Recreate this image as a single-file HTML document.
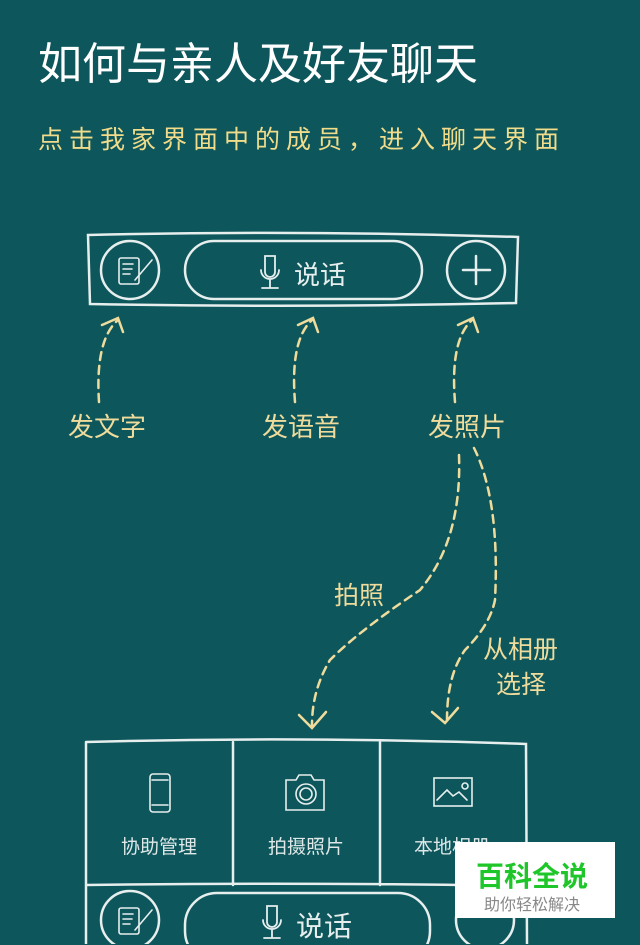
<!DOCTYPE html>
<html><head><meta charset="utf-8"><style>
html,body{margin:0;padding:0;}
body{width:640px;height:944px;background:#0d565b;position:relative;overflow:hidden;font-family:"Liberation Sans","Noto Sans CJK SC",sans-serif;}
.t{position:absolute;white-space:nowrap;}
</style></head><body>
<div class="t" style="left:38px;top:28px;font-size:44px;color:#fff;">如何与亲人及好友聊天</div>
<div class="t" style="left:38px;top:120px;font-size:25px;color:#f0dc8a;letter-spacing:6px;">点击我家界面中的成员，进入聊天界面</div>
<svg width="640" height="944" style="position:absolute;left:0;top:0" fill="none" stroke-linecap="round">
<g stroke="#e6eeee" stroke-width="2.5">
<path d="M88 235 Q300 230 518 237 L516 303 Q300 308 90 304 Z"/>
<circle cx="130" cy="270" r="29"/>
<rect x="185" y="241" width="237" height="58" rx="29"/>
<circle cx="476" cy="270" r="29"/>
<path d="M463 270 H490 M476 256 V284"/>
<rect x="119" y="258" width="20" height="26" rx="2" stroke-width="1.6"/>
<path d="M123 264h10M123 269h9M123 274h7M135 280 L152 260" stroke-width="1.6"/>
<path d="M265 256 h10 v16 a5 5 0 0 1-10 0z M261 270 a9 9 0 0 0 18 0 M270 280 v7 M262 288 h16" stroke-width="1.8"/>
<path d="M86 742 Q300 736 526 744 L527 944 M86 742 L86 944 M233 742 V885 M380 742 V885 M86 885 Q300 882 527 886" />
<circle cx="130" cy="920" r="29"/>
<rect x="185" y="893" width="245" height="70" rx="32"/>
<circle cx="485" cy="920" r="29"/>
<rect x="119" y="908" width="20" height="26" rx="2" stroke-width="1.6"/>
<path d="M123 914h10M123 919h9M123 924h7M135 930 L152 910" stroke-width="1.6"/>
<path d="M267 906 h10 v16 a5 5 0 0 1-10 0z M263 920 a9 9 0 0 0 18 0 M272 930 v7 M264 938 h16" stroke-width="1.8"/>
<g stroke-width="1.6">
<rect x="150" y="774" width="20" height="38" rx="3"/><path d="M152 780h16M152 805h16"/>
<path d="M286 780 h10 l3-5 h12 l3 5 h10 v30 h-38z"/><circle cx="306" cy="794" r="10"/><circle cx="306" cy="794" r="6"/>
<rect x="434" y="778" width="38" height="28"/><path d="M437 800 l10-10 6 6 6-4 8 8"/><circle cx="465" cy="786" r="3"/>
</g>
</g>
<g stroke="#efdc9c" stroke-width="2.5" stroke-dasharray="8 6">
<path d="M99 402 Q95 340 118 320"/>
<path d="M295 402 Q290 340 312 320"/>
<path d="M455 402 Q450 340 472 320"/>
<path d="M459 455 Q462 540 420 590 Q360 630 330 660 Q312 690 312 725"/>
<path d="M474 448 Q500 500 495 600 Q490 625 465 650 Q447 675 447 720"/>
</g>
<g stroke="#efdc9c" stroke-width="2.5">
<path d="M102 325 L118 318 L123 332"/>
<path d="M298 325 L313 318 L318 332"/>
<path d="M458 325 L473 318 L478 332"/>
<path d="M299 715 L312 728 L326 712"/>
<path d="M432 712 L445 723 L458 708"/>
</g>
</svg>
<div class="t" style="left:294px;top:255px;font-size:26px;color:#e6eeee;">说话</div>
<div class="t" style="left:296px;top:905px;font-size:28px;color:#e6eeee;">说话</div>
<div class="t" style="left:68px;top:407px;font-size:26px;color:#efdc9c;">发文字</div>
<div class="t" style="left:262px;top:407px;font-size:26px;color:#efdc9c;">发语音</div>
<div class="t" style="left:428px;top:407px;font-size:26px;color:#efdc9c;">发照片</div>
<div class="t" style="left:334px;top:576px;font-size:25px;color:#efdc9c;">拍照</div>
<div class="t" style="left:483px;top:630px;font-size:25px;color:#efdc9c;">从相册</div>
<div class="t" style="left:496px;top:665px;font-size:25px;color:#efdc9c;">选择</div>
<div class="t" style="left:121px;top:832px;font-size:19px;color:#dfe8e8;">协助管理</div>
<div class="t" style="left:268px;top:832px;font-size:19px;color:#dfe8e8;">拍摄照片</div>
<div class="t" style="left:414px;top:832px;font-size:19px;color:#dfe8e8;">本地相册</div>
<div style="position:absolute;left:455px;top:842px;width:160px;height:76px;background:#fff;"></div>
<div class="t" style="left:476px;top:855px;font-size:28px;font-weight:bold;color:#1ec62a;">百科全说</div>
<div class="t" style="left:484px;top:891px;font-size:16px;color:#888;">助你轻松解决</div>
</body></html>
